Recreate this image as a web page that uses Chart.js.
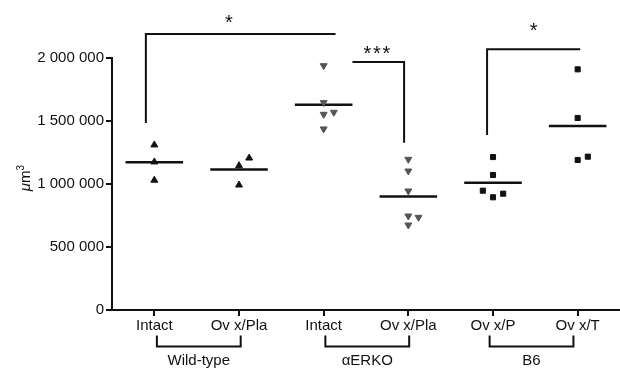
<!DOCTYPE html>
<html><head><meta charset="utf-8">
<script src="https://cdn.jsdelivr.net/npm/chart.js@4/dist/chart.umd.min.js"></script>
<style>html,body{margin:0;padding:0;background:#fff;}#wrap{width:620px;height:368px;}</style>
</head><body><div id="wrap"><canvas id="c" width="620" height="368"></canvas></div>
<script>
// ---- data ----
const categories = ['Intact', 'Ov x/Pla', 'Intact', 'Ov x/Pla', 'Ov x/P', 'Ov x/T'];
const groupNames = ['Wild-type', 'αERKO', 'B6'];
const wtIntact = [1310000, 1175000, 1030000];
const wtOvxPla = [1206000, 1145000, 992000];
const erkoIntact = [1939000, 1646000, 1569000, 1553000, 1437000];
const erkoOvxPla = [1196000, 1103000, 944500, 746000, 735600, 674600];
const b6OvxP = [1214000, 1071500, 947000, 923200, 894500];
const b6OvxT = [1910000, 1524000, 1217000, 1190600];
const yTicks = [0, 500000, 1000000, 1500000, 2000000];
const sigLabels = ['*', '***', '*'];

const FONT = '"Liberation Sans", Arial, Helvetica, sans-serif';
const series = [wtIntact, wtOvxPla, erkoIntact, erkoOvxPla, b6OvxP, b6OvxT];
const styleFor = i => i < 2 ? {ps: 'triangle', rot: 0, col: '#111', r: 4}
                    : i < 4 ? {ps: 'triangle', rot: 180, col: '#555', r: 4}
                    : {ps: 'rect', rot: 0, col: '#111', r: 3.6};

// simple beeswarm: spread points whose values nearly coincide
function swarm(vals, idx) {
  const thr = 70000, step = 0.12, order = [0, 1, -1, 2, -2];
  const placed = [];
  [...vals].sort((a, b) => a - b).forEach(v => {
    for (const o of order) {
      if (!placed.some(p => p.o === o && Math.abs(p.v - v) < thr)) { placed.push({v, o}); break; }
    }
  });
  return placed.map(p => ({x: idx + p.o * step, y: p.v}));
}
const mean = a => a.reduce((s, v) => s + v, 0) / a.length;

const datasets = [];
series.forEach((vals, i) => {
  const st = styleFor(i);
  datasets.push({
    type: 'scatter', data: swarm(vals, i),
    pointStyle: st.ps, rotation: st.rot, pointRadius: st.r,
    backgroundColor: st.col, borderColor: st.col, pointBorderWidth: 1
  });
  const m = mean(vals);
  datasets.push({
    type: 'line', data: [{x: i - 0.34, y: m}, {x: i + 0.34, y: m}],
    borderColor: '#111', borderWidth: 2.5, pointRadius: 0, fill: false
  });
});

// significance brackets (category / value units)
const sigBrackets = [
  {from: -0.1, to: 2.14, top: 2190000, leftLeg: 1484000, rightLeg: null, lx: 0.88, ly: 2324000},
  {from: 2.34, to: 2.95, top: 1968000, leftLeg: null, rightLeg: 1328000, lx: 2.63, ly: 2072000},
  {from: 3.93, to: 5.03, top: 2069000, leftLeg: 1389000, rightLeg: null, lx: 4.48, ly: 2258000}
];
const groupSpans = [[0.03, 1.02], [2.02, 3.01], [3.96, 4.95]];

const annot = {
  id: 'annot',
  afterDraw(chart) {
    const {ctx, scales: {x, y}, chartArea} = chart;
    ctx.save();
    ctx.strokeStyle = '#111'; ctx.fillStyle = '#111'; ctx.lineWidth = 2;
    sigBrackets.forEach((b, k) => {
      const x1 = x.getPixelForValue(b.from), x2 = x.getPixelForValue(b.to), yy = y.getPixelForValue(b.top);
      ctx.beginPath();
      if (b.leftLeg != null) { ctx.moveTo(x1, y.getPixelForValue(b.leftLeg)); ctx.lineTo(x1, yy); }
      else ctx.moveTo(x1, yy);
      ctx.lineTo(x2, yy);
      if (b.rightLeg != null) ctx.lineTo(x2, y.getPixelForValue(b.rightLeg));
      ctx.stroke();
      const lab = sigLabels[k];
      ctx.font = '20px ' + FONT; ctx.textAlign = 'center'; ctx.textBaseline = 'alphabetic';
      const sp = 9.5, cx = x.getPixelForValue(b.lx), cy = y.getPixelForValue(b.ly) + 0.57 * 20;
      for (let j = 0; j < lab.length; j++) ctx.fillText(lab[j], cx + (j - (lab.length - 1) / 2) * sp, cy);
    });
    // group brackets under the axis
    const g1 = chartArea.bottom + 25.5, g2 = chartArea.bottom + 36.5;
    ctx.font = '15px ' + FONT; ctx.textAlign = 'center'; ctx.textBaseline = 'alphabetic';
    groupSpans.forEach((s, k) => {
      const a = x.getPixelForValue(s[0]), b = x.getPixelForValue(s[1]);
      ctx.beginPath(); ctx.moveTo(a, g1); ctx.lineTo(a, g2); ctx.lineTo(b, g2); ctx.lineTo(b, g1); ctx.stroke();
      ctx.fillText(groupNames[k], (a + b) / 2, chartArea.bottom + 55);
    });
    // y title: italic mu, m, superscript 3
    ctx.translate(29.5, 178); ctx.rotate(-Math.PI / 2);
    ctx.textAlign = 'left';
    ctx.font = 'italic 15px ' + FONT; const w1 = ctx.measureText('μ').width;
    ctx.font = '15px ' + FONT; const w2 = ctx.measureText('m').width;
    ctx.font = '10px ' + FONT; const w3 = ctx.measureText('3').width;
    let sx = -(w1 + w2 + w3) / 2;
    ctx.font = 'italic 15px ' + FONT; ctx.fillText('μ', sx, 0); sx += w1;
    ctx.font = '15px ' + FONT; ctx.fillText('m', sx, 0); sx += w2;
    ctx.font = '10px ' + FONT; ctx.fillText('3', sx, -6);
    ctx.restore();
  }
};

new Chart(document.getElementById('c'), {
  data: {datasets},
  options: {
    responsive: false, animation: false, events: [],
    layout: {autoPadding: false, padding: {top: 58, right: 0, left: 0, bottom: 0}},
    plugins: {legend: {display: false}, tooltip: {enabled: false}},
    scales: {
      x: {
        type: 'linear', min: -0.5, max: 5.5,
        afterBuildTicks: s => { s.ticks = categories.map((c, i) => ({value: i})); },
        afterFit: s => { s.height = 58; },
        ticks: {callback: v => categories[v], color: '#111', font: {family: FONT, size: 15}, padding: 1, maxRotation: 0, autoSkip: false},
        grid: {drawOnChartArea: false, drawTicks: true, tickLength: 6, color: '#111', lineWidth: 2},
        border: {color: '#111', width: 2}
      },
      y: {
        type: 'linear', min: 0, max: 2000000,
        afterBuildTicks: s => { s.ticks = yTicks.map(v => ({value: v})); },
        afterFit: s => { s.width = 112; },
        ticks: {callback: v => v.toLocaleString('en-US').replace(/,/g, ' '), color: '#111', font: {family: FONT, size: 15}, padding: 2},
        grid: {drawOnChartArea: false, drawTicks: true, tickLength: 6, color: '#111', lineWidth: 2},
        border: {color: '#111', width: 2}
      }
    }
  },
  plugins: [annot]
});
</script></body></html>
